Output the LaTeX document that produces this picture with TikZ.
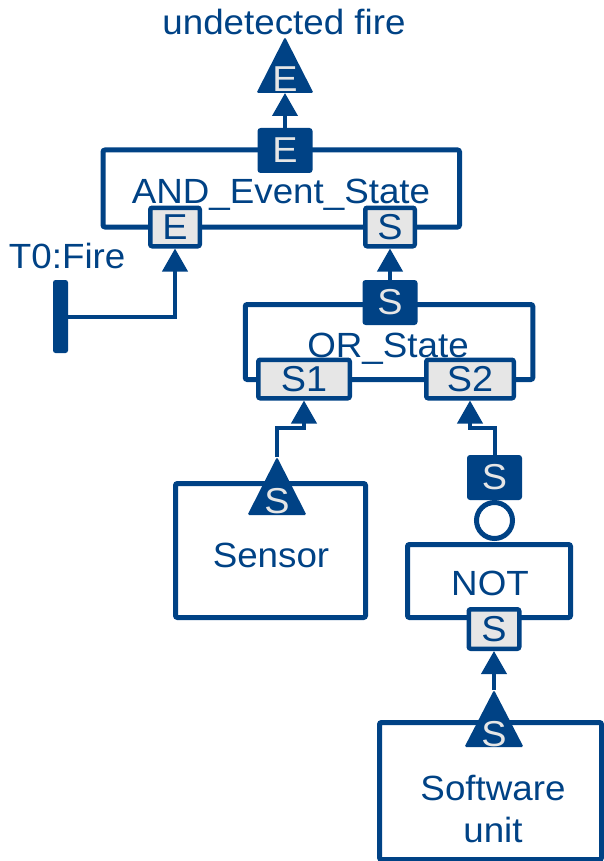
\documentclass[tikz,border=0pt]{standalone}
\usepackage{fontspec}
\setmainfont{Liberation Sans}[FakeStretch=1.05]
\usetikzlibrary{arrows.meta}
\definecolor{mblue}{RGB}{0,66,133}
\definecolor{pgray}{RGB}{230,230,230}
\begin{document}
\begin{tikzpicture}[x=1pt,y=-1pt,
  txt/.style={font=\fontsize{35}{42}\selectfont, text=mblue, inner sep=0pt, outer sep=0pt},
  block/.style={draw=mblue, line width=5pt, rounded corners=2pt, inner sep=0pt},
  lport/.style={draw=mblue, fill=pgray, line width=4.5pt, rounded corners=2pt, inner sep=0pt,
    minimum height=38.5pt, font=\fontsize{36}{42}\selectfont, text=mblue},
  dport/.style={fill=mblue, rounded corners=3pt, inner sep=0pt, minimum width=55pt,
    minimum height=45pt, font=\fontsize{36}{42}\selectfont, text=pgray},
  dlet/.style={font=\fontsize{36}{42}\selectfont, text=pgray, inner sep=0pt},
  conn/.style={draw=mblue, line width=4pt, -{Triangle[width=25pt,length=23pt]}},
  ptri/.style={fill=mblue, rounded corners=1.5pt}
]
\useasboundingbox (0,0) rectangle (603,861);

% ---------- big boxes ----------
\node[block, minimum width=356.5pt, minimum height=77pt] (andbox) at (281.25,188.5) {};
\node[block, minimum width=287.5pt, minimum height=75pt] (orbox) at (389,342) {};
\node[block, minimum width=190pt, minimum height=134pt] (sensor) at (270.5,550.5) {};
\node[block, minimum width=163pt, minimum height=73pt] (notbox) at (489,581) {};
\node[block, minimum width=222pt, minimum height=137pt] (swbox) at (490.5,791) {};

% ---------- labels ----------
\node[txt, anchor=base] (title) at (284,35) {undetected fire};
\node[txt, anchor=base] (andlbl) at (281,203) {AND\_Event\_State};
\node[txt, anchor=base] (orlbl) at (388,357) {OR\_State};
\node[txt, anchor=base west] (t0lbl) at (9,268) {T0:Fire};
\node[txt, anchor=base] (senslbl) at (271,567) {Sensor};
\node[txt, anchor=base] (notlbl) at (490,595) {NOT};
\node[txt, anchor=base] (swlbl1) at (493,800) {Software};
\node[txt, anchor=base] (swlbl2) at (493,842) {unit};

% ---------- output triangle ----------
\fill[ptri] (285,37) -- (313.5,93) -- (256.5,93) -- cycle;
\coordinate (outbase) at (285,93);
\node[dlet, anchor=base] (outE) at (285,92) {E};

% ---------- ports ----------
\node[dport] (topE) at (285,150.5) {E};
\node[lport, minimum width=49.5pt] (andE) at (175,227) {E};
\node[lport, minimum width=49.5pt] (andS) at (390,227) {S};

\node[dport] (orS) at (390,302.5) {S};
\node[lport, minimum width=91.5pt] (s1) at (304,379) {S1};
\node[lport, minimum width=87.5pt] (s2) at (470,379) {S2};

\node[dport] (notout) at (494.5,477.5) {S};
\node[circle, draw=mblue, line width=5pt, minimum size=36pt, inner sep=0pt] (neg) at (494.5,520.5) {};
\node[lport, minimum width=50.5pt, minimum height=39.5pt] (notS) at (494,629) {S};

% ---------- T0 bar ----------
\node[fill=mblue, rounded corners=2.5pt, minimum width=15pt, minimum height=73pt, inner sep=0pt] (t0bar) at (60.5,316.5) {};

% ---------- input triangles ----------
\fill[ptri] (277,457) -- (306.5,515) -- (247.5,515) -- cycle;
\coordinate (senstip) at (277,457);
\node[dlet, anchor=base] (sensS) at (277,513) {S};

\fill[ptri] (494,690) -- (523.5,747) -- (464.5,747) -- cycle;
\coordinate (swtip) at (494,690);
\node[dlet, anchor=base] (swS) at (494,746) {S};

% ---------- connectors ----------
\draw[conn] (topE.north) -- (outbase);
\draw[conn] (t0bar.east) -| (andE.south);
\draw[conn] (orS.north) -- (andS.south);
\draw[conn] (senstip) -- ++(0,-29) -| (s1.south);
\draw[conn] (notout.north) -- ++(0,-27) -| (s2.south);
\draw[conn] (swtip) -- (notS.south);
\end{tikzpicture}
\end{document}
